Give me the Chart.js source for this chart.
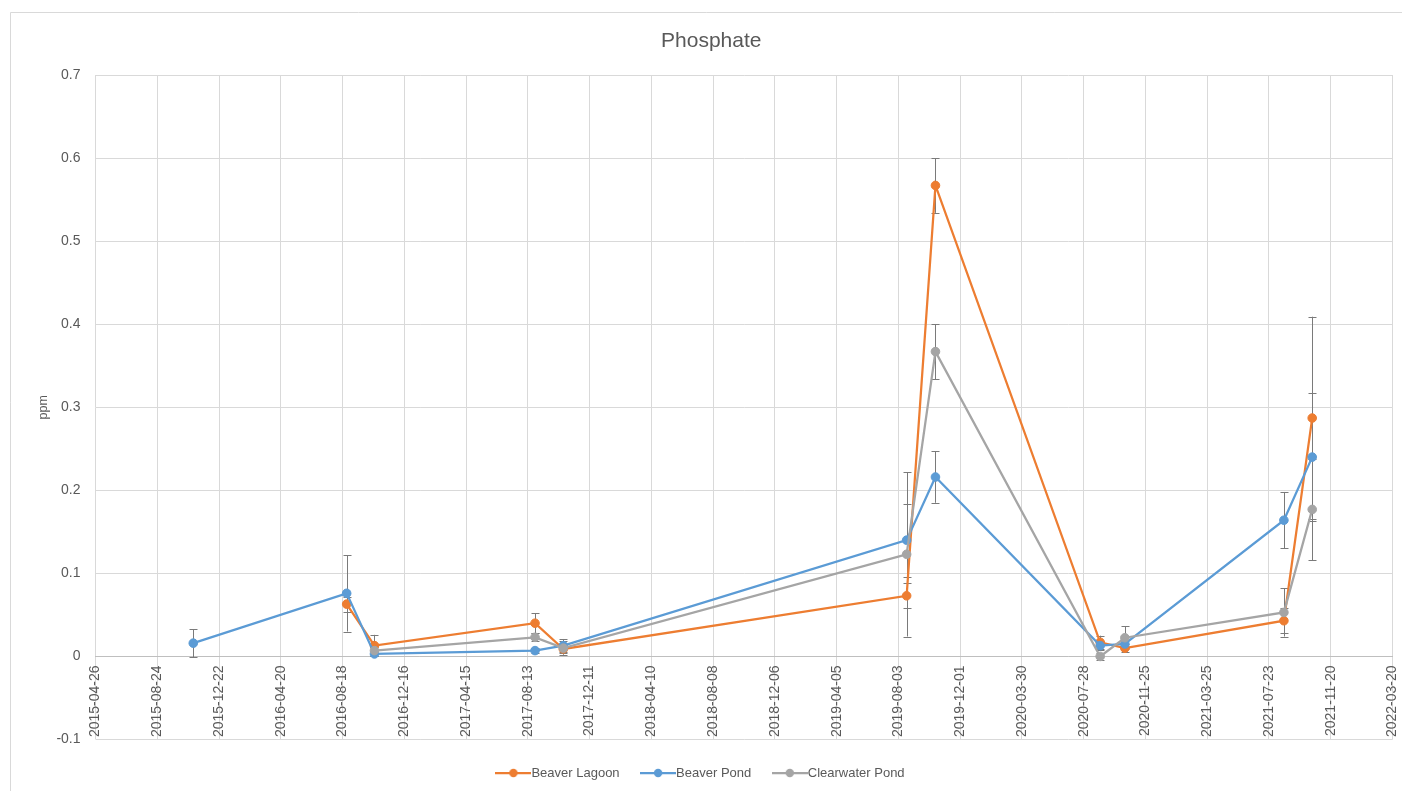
<!DOCTYPE html>
<html>
<head>
<meta charset="utf-8">
<script src="https://cdn.jsdelivr.net/npm/chart.js@4/dist/chart.umd.min.js"></script>
<style>
  html, body { margin: 0; padding: 0; background: #ffffff; }
  #wrap { position: relative; width: 1402px; height: 791px; }
</style>
</head>
<body>
<div id="wrap"><canvas id="c"></canvas></div>
<script>
// ---- Data ----
const startDate = '2015-04-26';
const tickStepDays = 120;
const tickCount = 21;

const seriesNames = ['Beaver Lagoon', 'Beaver Pond', 'Clearwater Pond'];

const lagoonDates  = ['2016-08-26','2016-10-19','2017-08-27','2017-10-21','2019-08-19','2019-10-14','2020-08-29','2020-10-16','2021-08-21','2021-10-15'];
const lagoonValues = [0.063, 0.013, 0.040, 0.009, 0.073, 0.567, 0.017, 0.010, 0.043, 0.287];
const lagoonErrors = [0.009, 0.013, 0.012, 0.005, 0.015, 0.033, 0.008, 0.005, 0.015, 0.122];

const pondDates  = ['2015-11-02','2016-08-26','2016-10-19','2017-08-27','2017-10-21','2019-08-19','2019-10-14','2020-08-29','2020-10-16','2021-08-21','2021-10-15'];
const pondValues = [0.016, 0.076, 0.003, 0.007, 0.013, 0.140, 0.216, 0.013, 0.015, 0.164, 0.240];
const pondErrors = [0.017, 0.046, 0.003, 0.003, 0.008, 0.044, 0.031, 0.005, 0.005, 0.034, 0.077];

const clearDates  = ['2016-10-19','2017-08-27','2017-10-21','2019-08-19','2019-10-14','2020-08-29','2020-10-16','2021-08-21','2021-10-15'];
const clearValues = [0.007, 0.023, 0.010, 0.123, 0.367, 0.000, 0.0225, 0.053, 0.177];
const clearErrors = [0.004, 0.005, 0.008, 0.099, 0.033, 0.004, 0.014, 0.029, 0.061];

const colors = ['#ED7D31', '#5B9BD5', '#A5A5A5'];

// ---- helpers ----
const DAY = 86400000;
const t0 = Date.parse(startDate + 'T00:00:00Z');
const toDays = d => Math.round((Date.parse(d + 'T00:00:00Z') - t0) / DAY);
const fromDays = v => new Date(t0 + Math.round(v) * DAY).toISOString().slice(0, 10);
const toPoints = (dates, vals) => dates.map((d, i) => ({ x: toDays(d), y: vals[i] }));

const errorSets = [lagoonErrors, pondErrors, clearErrors];

function makeIcon(color) {
  const c = document.createElement('canvas');
  c.width = 36; c.height = 12;
  const g = c.getContext('2d');
  g.strokeStyle = color; g.lineWidth = 2.25;
  g.beginPath(); g.moveTo(0, 6); g.lineTo(36, 6); g.stroke();
  g.fillStyle = color;
  g.beginPath(); g.arc(18, 6, 4.2, 0, Math.PI * 2); g.fill();
  return c;
}

const frameAndBg = {
  id: 'frameAndBg',
  beforeDraw(chart) {
    const ctx = chart.ctx;
    ctx.save();
    ctx.fillStyle = '#ffffff';
    ctx.fillRect(0, 0, chart.width, chart.height);
    ctx.strokeStyle = '#d9d9d9';
    ctx.lineWidth = 1;
    ctx.beginPath();
    ctx.moveTo(10.5, chart.height + 5);
    ctx.lineTo(10.5, 12.5);
    ctx.lineTo(chart.width + 5, 12.5);
    ctx.stroke();
    ctx.restore();
  }
};

// nudge the legend left so it is centred like the reference
const legendShift = {
  id: 'legendShift',
  afterLayout(chart) {
    if (chart.legend) { chart.legend.left -= 8; chart.legend.right -= 8; }
  }
};

const errorBars = {
  id: 'errorBars',
  beforeDatasetsDraw(chart) {
    const ctx = chart.ctx;
    const ys = chart.scales.y;
    ctx.save();
    ctx.strokeStyle = '#7a7a7a';
    ctx.lineWidth = 1;
    chart.data.datasets.forEach((ds, i) => {
      const meta = chart.getDatasetMeta(i);
      const errs = errorSets[i];
      meta.data.forEach((pt, j) => {
        const v = ds.data[j].y, e = errs[j];
        if (!e) return;
        const x = Math.round(pt.x) + 0.5;
        const yt = ys.getPixelForValue(v + e);
        const yb = ys.getPixelForValue(v - e);
        ctx.beginPath();
        ctx.moveTo(x, yt); ctx.lineTo(x, yb);
        ctx.moveTo(x - 4, Math.round(yt) + 0.5); ctx.lineTo(x + 4, Math.round(yt) + 0.5);
        ctx.moveTo(x - 4, Math.round(yb) + 0.5); ctx.lineTo(x + 4, Math.round(yb) + 0.5);
        ctx.stroke();
      });
    });
    ctx.restore();
  }
};

function mkDataset(label, pts, color, order) {
  return {
    label, data: pts, order,
    borderColor: color, backgroundColor: color,
    borderWidth: 2.25, tension: 0,
    pointRadius: 4.3, pointBorderWidth: 1,
    pointBackgroundColor: color, pointBorderColor: color,
    pointHoverRadius: 4.3
  };
}

Chart.defaults.font.family = '"Liberation Sans", Arial, sans-serif';
Chart.defaults.color = '#595959';

new Chart(document.getElementById('c'), {
  type: 'line',
  data: {
    datasets: [
      mkDataset(seriesNames[0], toPoints(lagoonDates, lagoonValues), colors[0], 3),
      mkDataset(seriesNames[1], toPoints(pondDates, pondValues), colors[1], 2),
      mkDataset(seriesNames[2], toPoints(clearDates, clearValues), colors[2], 1)
    ]
  },
  options: {
    responsive: true,
    maintainAspectRatio: false,
    animation: false,
    devicePixelRatio: 1,
    layout: { padding: { left: 30, right: 9.5, top: 0, bottom: 1.5 } },
    plugins: {
      tooltip: { enabled: false },
      title: {
        display: true, text: 'Phosphate', color: '#595959',
        font: { size: 21, weight: 'normal' },
        padding: { top: 29, bottom: 20.8 }
      },
      legend: {
        position: 'bottom',
        labels: {
          usePointStyle: true,
          pointStyleWidth: 23,
          padding: 27,
          color: '#595959',
          font: { size: 13 },
          generateLabels(chart) {
            return chart.data.datasets.map((ds, i) => ({
              text: ds.label,
              pointStyle: makeIcon(ds.borderColor),
              fillStyle: ds.borderColor,
              strokeStyle: ds.borderColor,
              lineWidth: 0,
              hidden: false,
              datasetIndex: i,
              fontColor: '#595959'
            }));
          }
        }
      }
    },
    scales: {
      x: {
        type: 'linear',
        position: { y: 0 },
        min: 0,
        max: tickStepDays * tickCount,
        grid: { color: '#d9d9d9', drawTicks: false },
        border: { display: true, color: '#bfbfbf', width: 1 },
        ticks: {
          stepSize: tickStepDays,
          autoSkip: false,
          minRotation: 90, maxRotation: 90,
          padding: 9,
          color: '#595959',
          font: { size: 14 },
          callback: v => fromDays(v)
        },
        afterFit(scale) { scale.paddingLeft = 0; scale.paddingRight = 0; }
      },
      y: {
        min: -0.1, max: 0.7,
        grid: { color: '#d9d9d9', drawTicks: false },
        border: { display: false },
        ticks: {
          stepSize: 0.1,
          padding: 15,
          color: '#595959',
          font: { size: 14 },
          callback: v => Math.abs(v) < 1e-9 ? '0' : v.toFixed(1)
        },
        title: {
          display: true, text: 'ppm', color: '#595959',
          font: { size: 12.5 },
          padding: { top: 6, bottom: 0 }
        },
        afterFit(scale) { scale.width = 65.5; }
      }
    }
  },
  plugins: [frameAndBg, legendShift, errorBars]
});
</script>
</body>
</html>
